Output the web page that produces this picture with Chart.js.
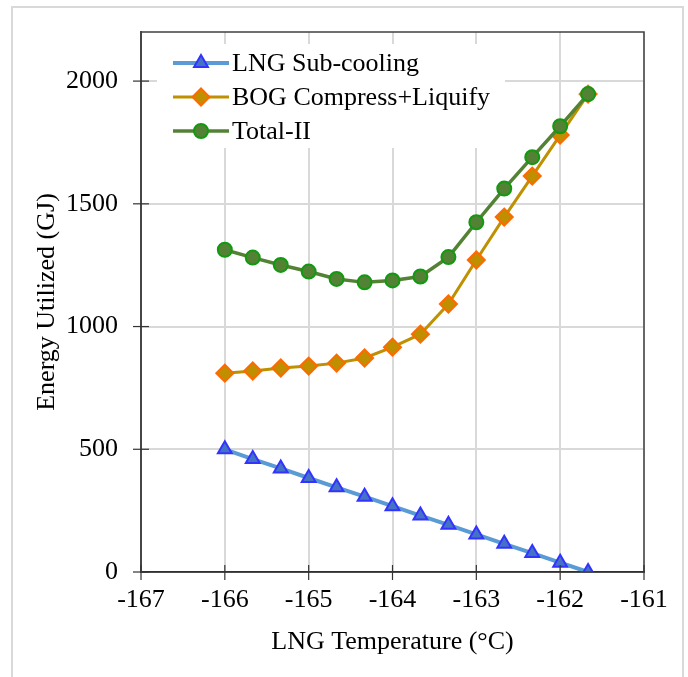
<!DOCTYPE html>
<html>
<head>
<meta charset="utf-8">
<script src="https://cdn.jsdelivr.net/npm/chart.js@4.4.0/dist/chart.umd.min.js"></script>
<style>
html,body{margin:0;padding:0;background:#fff;}
#wrap{width:688px;height:677px;position:relative;}
</style>
</head>
<body>
<div id="wrap"><canvas id="c" width="688" height="677"></canvas></div>
<script>
// Data
const temperatures = [-166, -165.667, -165.333, -165, -164.667, -164.333, -164, -163.667, -163.333, -163, -162.667, -162.333, -162, -161.667];
const lngSubCooling = [500, 460, 422, 383, 345, 307, 268, 230, 192, 153, 115, 77, 38, 0];
const bogCompressLiquify = [810, 819, 831, 839, 851, 872, 916, 969, 1092, 1271, 1446, 1613, 1780, 1947];
const totalII = [1313, 1281, 1251, 1224, 1194, 1180, 1188, 1204, 1283, 1425, 1562, 1690, 1816, 1947];
const seriesNames = ['LNG Sub-cooling', 'BOG Compress+Liquify', 'Total-II'];
const xTickValues = [-167, -166, -165, -164, -163, -162, -161];
const yTickValues = [0, 500, 1000, 1500, 2000];
const xTitle = 'LNG Temperature (°C)';
const yTitle = 'Energy Utilized (GJ)';

const FONT = '"Liberation Serif", "Times New Roman", serif';
const FS = 26;

function pts(ys){ return temperatures.map((x,i)=>({x:x, y:ys[i]})); }

const styles = [
  {line:'#5B9BD5', lw:4, fill:'#4472C4', stroke:'#3333FF', shape:'triangle', r:8, bw:2},
  {line:'#BF9000', lw:3, fill:'#BF8F00', stroke:'#FF6A00', shape:'rectRot', r:8.5, bw:2},
  {line:'#548235', lw:3.5, fill:'#548235', stroke:'#119911', shape:'circle', r:7, bw:2}
];

function drawMarker(ctx, s, x, y){
  ctx.save();
  ctx.fillStyle = s.fill; ctx.strokeStyle = s.stroke; ctx.lineWidth = s.bw;
  ctx.beginPath();
  const r = s.r;
  if (s.shape === 'circle') {
    ctx.arc(x, y, r, 0, Math.PI*2);
  } else if (s.shape === 'triangle') {
    ctx.moveTo(x, y - r);
    ctx.lineTo(x + r*Math.sin(Math.PI/3), y + r/2);
    ctx.lineTo(x - r*Math.sin(Math.PI/3), y + r/2);
    ctx.closePath();
  } else {
    ctx.moveTo(x, y - r); ctx.lineTo(x + r, y); ctx.lineTo(x, y + r); ctx.lineTo(x - r, y); ctx.closePath();
  }
  ctx.fill(); ctx.stroke();
  ctx.restore();
}

const frameAndLegend = {
  id: 'frameAndLegend',
  beforeDatasetsDraw(chart){
    const ctx = chart.ctx;
    ctx.save();
    ctx.fillStyle = '#fff';
    ctx.fillRect(157, 44, 348, 104);
    ctx.restore();
  },
  afterDatasetsDraw(chart){
    const ctx = chart.ctx;
    const ca = chart.chartArea;
    ctx.save();
    ctx.strokeStyle = '#404040'; ctx.lineWidth = 1.5;
    ctx.strokeRect(ca.left, ca.top, ca.right - ca.left, ca.bottom - ca.top);
    ctx.strokeStyle = '#333'; ctx.lineWidth = 1.2;
    const xs = chart.scales.x, ys = chart.scales.y;
    xs.ticks.forEach(t => {
      const px = xs.getPixelForValue(t.value);
      ctx.beginPath(); ctx.moveTo(px, ca.bottom - 7); ctx.lineTo(px, ca.bottom + 8); ctx.stroke();
    });
    ys.ticks.forEach(t => {
      const py = ys.getPixelForValue(t.value);
      ctx.beginPath(); ctx.moveTo(ca.left - 8, py); ctx.lineTo(ca.left + 8, py); ctx.stroke();
    });
    ctx.strokeStyle = '#d9d9d9'; ctx.lineWidth = 2;
    ctx.beginPath();
    ctx.moveTo(12, 690); ctx.lineTo(12, 7); ctx.lineTo(683, 7); ctx.lineTo(683, 690);
    ctx.stroke();
    const rows = [63, 97, 131];
    ctx.font = FS + 'px ' + FONT;
    ctx.textBaseline = 'middle';
    ctx.textAlign = 'left';
    seriesNames.forEach((n, i) => {
      const s = styles[i], y = rows[i];
      ctx.strokeStyle = s.line; ctx.lineWidth = s.lw;
      ctx.beginPath(); ctx.moveTo(173, y); ctx.lineTo(229, y); ctx.stroke();
      drawMarker(ctx, s, 201, y);
      ctx.fillStyle = '#000';
      ctx.fillText(n, 232, y + 1);
    });
    ctx.restore();
  }
};

const datasets = [lngSubCooling, bogCompressLiquify, totalII].map((d, i) => ({
  label: seriesNames[i],
  data: pts(d),
  borderColor: styles[i].line,
  borderWidth: styles[i].lw,
  backgroundColor: styles[i].fill,
  pointBackgroundColor: styles[i].fill,
  pointBorderColor: styles[i].stroke,
  pointBorderWidth: styles[i].bw,
  pointStyle: styles[i].shape,
  pointRadius: styles[i].r,
  pointHoverRadius: styles[i].r,
  tension: 0,
  fill: false,
  order: 3 - i
}));

new Chart(document.getElementById('c'), {
  type: 'line',
  data: { datasets },
  options: {
    responsive: false,
    animation: false,
    devicePixelRatio: 1,
    layout: { padding: { left: 28, top: 32, right: 44, bottom: 0 } },
    plugins: { legend: { display: false }, tooltip: { enabled: false } },
    scales: {
      x: {
        type: 'linear', min: -167, max: -161,
        afterBuildTicks(scale){ scale.ticks = xTickValues.map(v => ({value: v})); },
        ticks: { font: { family: FONT, size: FS }, color: '#000', padding: 13, maxRotation: 0, autoSkip: false,
                 callback: v => String(v) },
        grid: { color: '#d9d9d9', lineWidth: 2, drawTicks: false },
        border: { display: true, color: '#000', width: 1.5 },
        title: { display: true, text: xTitle, font: { family: FONT, size: FS }, color: '#000', padding: { top: 0, bottom: 19 } },
        afterFit(scale){ scale.height = 105; scale.paddingLeft = 0; scale.paddingRight = 0; }
      },
      y: {
        type: 'linear', min: 0, max: 2200,
        afterBuildTicks(scale){ scale.ticks = yTickValues.map(v => ({value: v})); },
        ticks: { font: { family: FONT, size: FS }, color: '#000', padding: 23, autoSkip: false,
                 callback: v => String(v) },
        grid: { color: '#d9d9d9', lineWidth: 2, drawTicks: false },
        border: { display: true, color: '#595959', width: 2 },
        title: { display: true, text: yTitle, font: { family: FONT, size: FS }, color: '#000', padding: { top: 4, bottom: 0 } },
        afterFit(scale){ scale.width = 113; scale.paddingTop = 0; scale.paddingBottom = 0; }
      }
    }
  },
  plugins: [frameAndLegend]
});
</script>
</body>
</html>
